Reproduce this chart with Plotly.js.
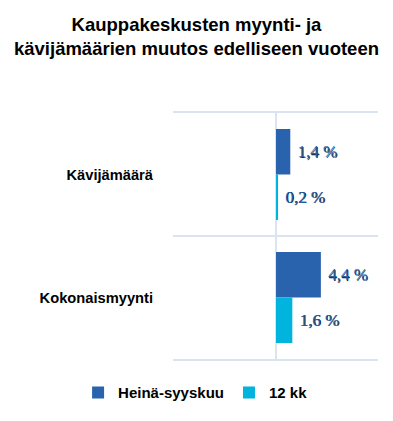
<!DOCTYPE html>
<html>
<head>
<meta charset="utf-8">
<script src="https://cdn.plot.ly/plotly-3.0.1.min.js"></script>
<style>html,body{margin:0;padding:0;background:#fff;}#chart{width:393px;height:421px;}</style>
</head>
<body>
<div id="chart"></div>
<script>
var categories = ['Kävijämäärä', 'Kokonaismyynti'];
var seriesNames = ['Heinä-syyskuu', '12 kk'];
var heinaSyyskuu = [1.4, 4.4];
var kk12 = [0.2, 1.6];
var titleText = 'Kauppakeskusten myynti- ja<br>kävijämäärien muutos edelliseen vuoteen';

function fmt(v){ return '\u00a0' + v.toFixed(1).replace('.', ',') + '\u00a0%'; }

var labelFont = {family: 'Liberation Serif, Times New Roman, serif', size: 17, color: '#2A5C9E', shadow: '0.6px 0.6px 0.6px #0b2550'};

var traces = [
  {type: 'bar', orientation: 'h', name: seriesNames[0], y: categories, x: heinaSyyskuu,
   text: heinaSyyskuu.map(fmt), textposition: 'outside', textfont: labelFont, cliponaxis: false,
   marker: {color: '#2A63AD'}, hoverinfo: 'none'},
  {type: 'bar', orientation: 'h', name: seriesNames[1], y: categories, x: kk12,
   text: kk12.map(fmt), textposition: 'outside', textfont: labelFont, cliponaxis: false,
   marker: {color: '#00B4DE'}, hoverinfo: 'none'}
];

var layout = {
  width: 393, height: 421,
  margin: {l: 173, r: 15, t: 113, b: 59},
  paper_bgcolor: '#ffffff', plot_bgcolor: '#ffffff',
  font: {family: 'Liberation Sans, Arial, sans-serif', color: '#000000'},
  title: {text: titleText, font: {family: 'Liberation Sans, Arial, sans-serif', size: 18.5, weight: 'bold', color: '#000000'},
          x: 0.5, xanchor: 'center', xref: 'container', y: 0.926, yanchor: 'top', yref: 'container'},
  barmode: 'group', bargap: 0.26, bargroupgap: 0,
  xaxis: {range: [-10.1, 10.0], showticklabels: false, ticks: '', showgrid: false,
          zeroline: true, zerolinecolor: '#DAE3F0', zerolinewidth: 2,
          showline: true, mirror: true, linecolor: '#DAE3F0', linewidth: 2, fixedrange: true},
  yaxis: {autorange: 'reversed', type: 'category', tickson: 'boundaries', ticks: '',
          showgrid: true, gridcolor: '#DAE3F0', gridwidth: 2, showline: false, zeroline: false,
          ticklabelstandoff: 19,
          tickfont: {family: 'Liberation Sans, Arial, sans-serif', size: 14.7, weight: 'bold', color: '#000000'}, fixedrange: true},
  showlegend: true,
  legend: {orientation: 'h', xref: 'paper', yref: 'paper', x: -0.463, xanchor: 'left', y: -0.137, yanchor: 'middle',
           font: {family: 'Liberation Sans, Arial, sans-serif', size: 15, weight: 'bold', color: '#000000'},
           itemwidth: 30, traceorder: 'normal'}
};

Plotly.newPlot('chart', traces, layout, {displayModeBar: false, staticPlot: true});
</script>
</body>
</html>
